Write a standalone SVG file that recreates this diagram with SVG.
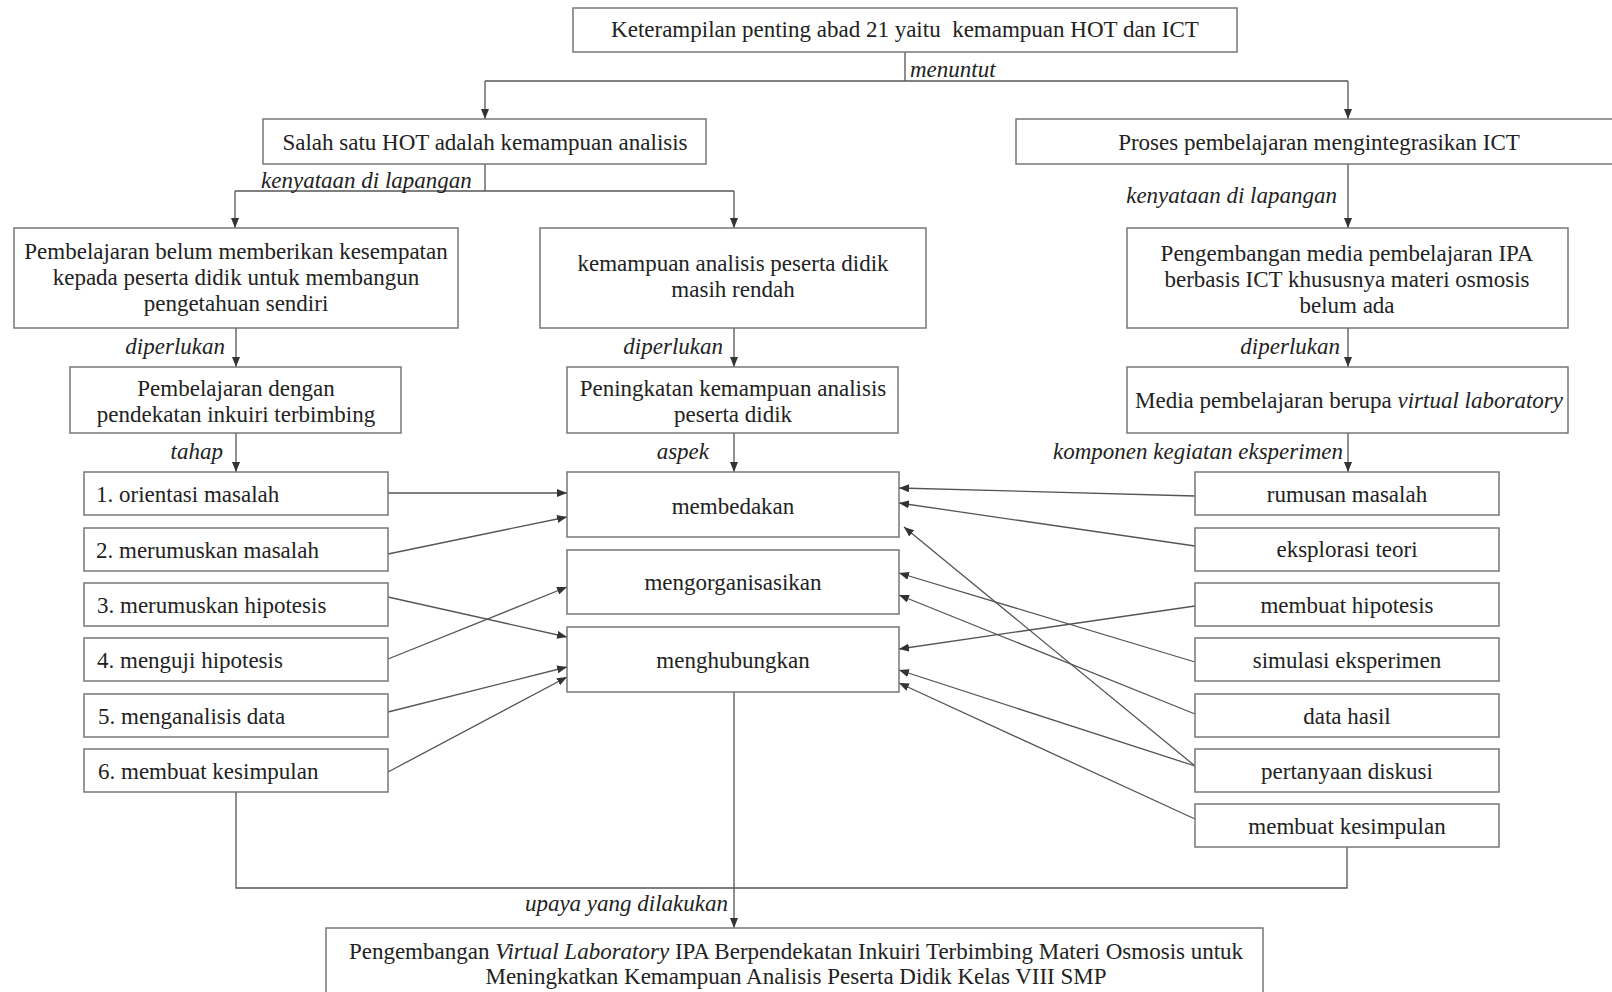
<svg xmlns="http://www.w3.org/2000/svg" width="1612" height="992" viewBox="0 0 1612 992">
<defs>
<marker id="ah" markerUnits="userSpaceOnUse" markerWidth="10" markerHeight="8" refX="10" refY="4" orient="auto">
<path d="M0,0 L10,4 L0,8 z" fill="#333"/>
</marker>
<style>
.box{fill:#fff;stroke:#777;stroke-width:1.5}
.t{font-family:"Liberation Serif","Times New Roman",serif;font-size:23px;fill:#222}
.c{text-anchor:middle}
.e{text-anchor:end}
.i{font-style:italic}
.ln{fill:none;stroke:#555;stroke-width:1.3}
.ar{fill:none;stroke:#555;stroke-width:1.3;marker-end:url(#ah)}
</style>
</defs>
<rect width="1612" height="992" fill="#fff"/>

<g id="connectors">
<path class="ln" d="M905,51 V81 M485,81 H1348"/>
<path class="ar" d="M485,81 V119"/>
<path class="ar" d="M1348,81 V119"/>
<path class="ln" d="M485,164 V191 M235,191 H734"/>
<path class="ar" d="M235,191 V228"/>
<path class="ar" d="M734,191 V228"/>
<path class="ar" d="M1348,164 V228"/>
<path class="ar" d="M236,328 V367"/>
<path class="ar" d="M734,328 V367"/>
<path class="ar" d="M1348,328 V367"/>
<path class="ar" d="M236,433 V472"/>
<path class="ar" d="M734,433 V472"/>
<path class="ar" d="M1348,433 V472"/>
<path class="ar" d="M388,493 L567,493"/>
<path class="ar" d="M388,554 L567,517"/>
<path class="ar" d="M388,597 L567,637"/>
<path class="ar" d="M388,659 L567,587"/>
<path class="ar" d="M388,712 L567,667"/>
<path class="ar" d="M388,772 L567,677"/>
<path class="ar" d="M1195,496 L899,488"/>
<path class="ar" d="M1195,546 L899,503"/>
<path class="ar" d="M1195,606 L899,649"/>
<path class="ar" d="M1195,662 L899,573"/>
<path class="ar" d="M1195,714 L899,595"/>
<path class="ar" d="M1195,766 L904,527"/>
<path class="ar" d="M1195,766 L899,670"/>
<path class="ar" d="M1195,819 L899,683"/>
<path class="ln" d="M236,792 V888 H1347 V847"/>
<path class="ar" d="M734,692 V928"/>
<text class="t i" x="910" y="77">menuntut</text>
<text class="t i" x="261" y="188">kenyataan di lapangan</text>
<text class="t i e" x="1337" y="203">kenyataan di lapangan</text>
<text class="t i e" x="225" y="354">diperlukan</text>
<text class="t i e" x="723" y="354">diperlukan</text>
<text class="t i e" x="1340" y="354">diperlukan</text>
<text class="t i e" x="223" y="459">tahap</text>
<text class="t i e" x="709" y="459">aspek</text>
<text class="t i e" x="1343" y="459">komponen kegiatan eksperimen</text>
<text class="t i e" x="728" y="911">upaya yang dilakukan</text>
</g>

<g id="n-top"><rect class="box" x="573" y="8" width="664" height="44"/><text class="t c" x="905" y="37">Keterampilan penting abad 21 yaitu&#160; kemampuan HOT dan ICT</text></g>
<g id="n-hot"><rect class="box" x="263" y="119" width="443" height="45"/><text class="t c" x="485" y="150">Salah satu HOT adalah kemampuan analisis</text></g>
<g id="n-ict"><rect class="box" x="1016" y="119" width="610" height="45"/><text class="t c" x="1319" y="150">Proses pembelajaran mengintegrasikan ICT</text></g>

<g id="n-belum"><rect class="box" x="14" y="228" width="444" height="100"/>
<text class="t c" x="236" y="259">Pembelajaran belum memberikan kesempatan</text>
<text class="t c" x="236" y="285">kepada peserta didik untuk membangun</text>
<text class="t c" x="236" y="311">pengetahuan sendiri</text></g>
<g id="n-rendah"><rect class="box" x="540" y="228" width="386" height="100"/>
<text class="t c" x="733" y="271">kemampuan analisis peserta didik</text>
<text class="t c" x="733" y="297">masih rendah</text></g>
<g id="n-media"><rect class="box" x="1127" y="228" width="441" height="100"/>
<text class="t c" x="1347" y="261">Pengembangan media pembelajaran IPA</text>
<text class="t c" x="1347" y="287">berbasis ICT khususnya materi osmosis</text>
<text class="t c" x="1347" y="313">belum ada</text></g>

<g id="n-inkuiri"><rect class="box" x="70" y="367" width="331" height="66"/>
<text class="t c" x="236" y="396">Pembelajaran dengan</text>
<text class="t c" x="236" y="422">pendekatan inkuiri terbimbing</text></g>
<g id="n-peningkatan"><rect class="box" x="567" y="367" width="331" height="66"/>
<text class="t c" x="733" y="396">Peningkatan kemampuan analisis</text>
<text class="t c" x="733" y="422">peserta didik</text></g>
<g id="n-vlab"><rect class="box" x="1127" y="367" width="441" height="66"/>
<text class="t c" x="1349" y="408">Media pembelajaran berupa <tspan class="i">virtual laboratory</tspan></text></g>

<g id="n-s1"><rect class="box" x="84" y="472" width="304" height="43"/><text class="t" x="96" y="502">1. orientasi masalah</text></g>
<g id="n-s2"><rect class="box" x="84" y="528" width="304" height="43"/><text class="t" x="96" y="558">2. merumuskan masalah</text></g>
<g id="n-s3"><rect class="box" x="84" y="583" width="304" height="43"/><text class="t" x="97" y="613">3. merumuskan hipotesis</text></g>
<g id="n-s4"><rect class="box" x="84" y="638" width="304" height="43"/><text class="t" x="97" y="668">4. menguji hipotesis</text></g>
<g id="n-s5"><rect class="box" x="84" y="694" width="304" height="43"/><text class="t" x="98" y="724">5. menganalisis data</text></g>
<g id="n-s6"><rect class="box" x="84" y="749" width="304" height="43"/><text class="t" x="98" y="779">6. membuat kesimpulan</text></g>

<g id="n-a1"><rect class="box" x="567" y="472" width="332" height="65"/><text class="t c" x="733" y="514">membedakan</text></g>
<g id="n-a2"><rect class="box" x="567" y="550" width="332" height="64"/><text class="t c" x="733" y="590">mengorganisasikan</text></g>
<g id="n-a3"><rect class="box" x="567" y="627" width="332" height="65"/><text class="t c" x="733" y="668">menghubungkan</text></g>

<g id="n-k1"><rect class="box" x="1195" y="472" width="304" height="43"/><text class="t c" x="1347" y="502">rumusan masalah</text></g>
<g id="n-k2"><rect class="box" x="1195" y="528" width="304" height="43"/><text class="t c" x="1347" y="557">eksplorasi teori</text></g>
<g id="n-k3"><rect class="box" x="1195" y="583" width="304" height="43"/><text class="t c" x="1347" y="613">membuat hipotesis</text></g>
<g id="n-k4"><rect class="box" x="1195" y="638" width="304" height="43"/><text class="t c" x="1347" y="668">simulasi eksperimen</text></g>
<g id="n-k5"><rect class="box" x="1195" y="694" width="304" height="43"/><text class="t c" x="1347" y="724">data hasil</text></g>
<g id="n-k6"><rect class="box" x="1195" y="749" width="304" height="43"/><text class="t c" x="1347" y="779">pertanyaan diskusi</text></g>
<g id="n-k7"><rect class="box" x="1195" y="804" width="304" height="43"/><text class="t c" x="1347" y="834">membuat kesimpulan</text></g>

<g id="n-final"><rect class="box" x="326" y="928" width="937" height="80"/>
<text class="t c" x="796" y="959">Pengembangan <tspan class="i">Virtual Laboratory</tspan> IPA Berpendekatan Inkuiri Terbimbing Materi Osmosis untuk</text>
<text class="t c" x="796" y="984">Meningkatkan Kemampuan Analisis Peserta Didik Kelas VIII SMP</text></g>
</svg>
